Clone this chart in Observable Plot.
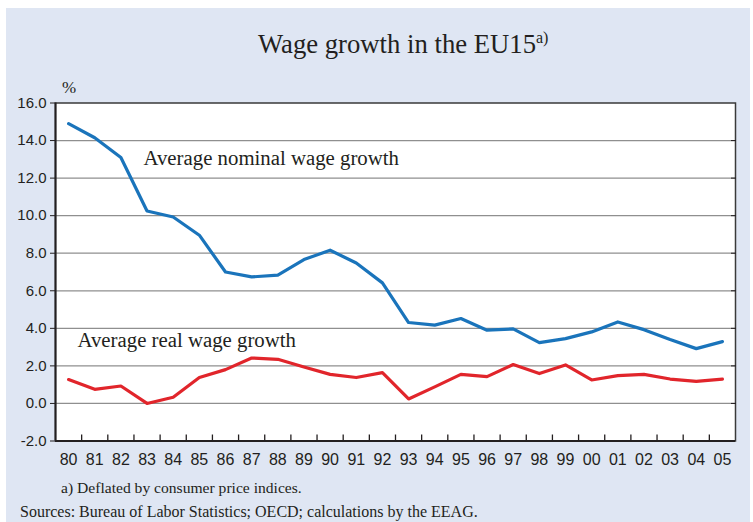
<!DOCTYPE html>
<html><head><meta charset="utf-8">
<script src="https://cdn.jsdelivr.net/npm/d3@7"></script>
<script src="https://cdn.jsdelivr.net/npm/@observablehq/plot@0.6"></script>
<style>
html,body{margin:0;padding:0;background:#fff}
body{width:753px;height:522px;overflow:hidden;position:relative;font-family:"Liberation Serif","Times New Roman",serif;color:#231f20}
#panel{position:absolute;left:6px;top:8px;width:744px;height:514px;background:#dfe6f3}
#chart{position:absolute;left:0;top:0}
.t{position:absolute;white-space:nowrap;line-height:1;color:#231f20}
#title{left:258px;top:31px;font-size:26.7px}
#title sup{font-size:16px;vertical-align:0;position:relative;top:-10px}
#pct{left:62px;top:79px;font-size:17px}
#note{left:61px;top:480px;font-size:15.6px}
#src{left:20px;top:504px;font-size:16px}
</style></head><body>
<div id="panel"></div>
<div id="chart"></div>
<div class="t" id="title">Wage growth in the EU15<sup>a)</sup></div>
<div class="t" id="pct">%</div>
<div class="t" id="note">a) Deflated by consumer price indices.</div>
<div class="t" id="src">Sources: Bureau of Labor Statistics; OECD; calculations by the EEAG.</div>
<script>
const years = ["80","81","82","83","84","85","86","87","88","89","90","91","92","93","94","95","96","97","98","99","00","01","02","03","04","05"];
const nominal = [14.9,14.15,13.1,10.25,9.93,8.96,7.0,6.74,6.83,7.66,8.16,7.48,6.42,4.31,4.17,4.52,3.9,3.97,3.24,3.45,3.81,4.34,3.93,3.4,2.92,3.29];
const real = [1.27,0.75,0.93,0.0,0.33,1.38,1.8,2.42,2.35,1.94,1.55,1.38,1.64,0.24,0.88,1.55,1.43,2.07,1.59,2.05,1.25,1.48,1.55,1.3,1.18,1.3];
const yTicks = [-2,0,2,4,6,8,10,12,14,16];
const seriesLabels = ["Average nominal wage growth","Average real wage growth"];

const rows = years.map((y, i) => ({i, year: y, nominal: nominal[i], real: real[i]}));
const boundaries = d3.range(0.5, years.length - 1, 1);
const ink = "#231f20";

const chart = Plot.plot({
  width: 753, height: 522,
  marginLeft: 55, marginRight: 18, marginTop: 102.5, marginBottom: 81.5,
  style: {background: "transparent", fontFamily: "Liberation Sans, Arial, sans-serif", color: ink, overflow: "visible"},
  x: {domain: [-0.5, years.length - 0.5]},
  y: {domain: [-2, 16]},
  marks: [
    Plot.frame({fill: "white", stroke: null}),
    Plot.gridY(yTicks.slice(1, -1), {stroke: "#8f8f8f", strokeOpacity: 1, strokeWidth: 1.3}),
    Plot.lineY(rows, {x: "i", y: "nominal", stroke: "#1a74bb", strokeWidth: 3.2}),
    Plot.lineY(rows, {x: "i", y: "real", stroke: "#e1252b", strokeWidth: 3.2}),
    Plot.frame({stroke: "#3a3a3a", strokeWidth: 1.5}),
    Plot.ruleX([-0.5], {stroke: ink, strokeWidth: 2}),
    Plot.ruleY([-2], {stroke: ink, strokeWidth: 2}),
    Plot.axisY({ticks: yTicks, tickFormat: d => d.toFixed(1), tickSize: 5, tickPadding: 4, fontSize: 15, stroke: ink, label: null}),
    Plot.axisY({anchor: "right", ticks: yTicks.slice(1, -1), tickSize: -5, tickFormat: () => "", stroke: ink, label: null}),
    Plot.axisX({ticks: boundaries, tickSize: -6, tickFormat: () => "", stroke: ink, strokeWidth: 1.3, label: null}),
    Plot.axisX({ticks: d3.range(years.length), tickFormat: i => years[i], tickSize: 0, tickPadding: 13, fontSize: 16, label: null}),
    Plot.text([seriesLabels[0]], {frameAnchor: "top-left", dx: 88, dy: 62, textAnchor: "start", lineAnchor: "bottom", fontSize: 20.8, fontFamily: "Liberation Serif, Times New Roman, serif", fill: ink}),
    Plot.text([seriesLabels[1]], {frameAnchor: "top-left", dx: 22, dy: 244, textAnchor: "start", lineAnchor: "bottom", fontSize: 20.8, fontFamily: "Liberation Serif, Times New Roman, serif", fill: ink})
  ]
});
document.getElementById("chart").appendChild(chart);
</script>
</body></html>
